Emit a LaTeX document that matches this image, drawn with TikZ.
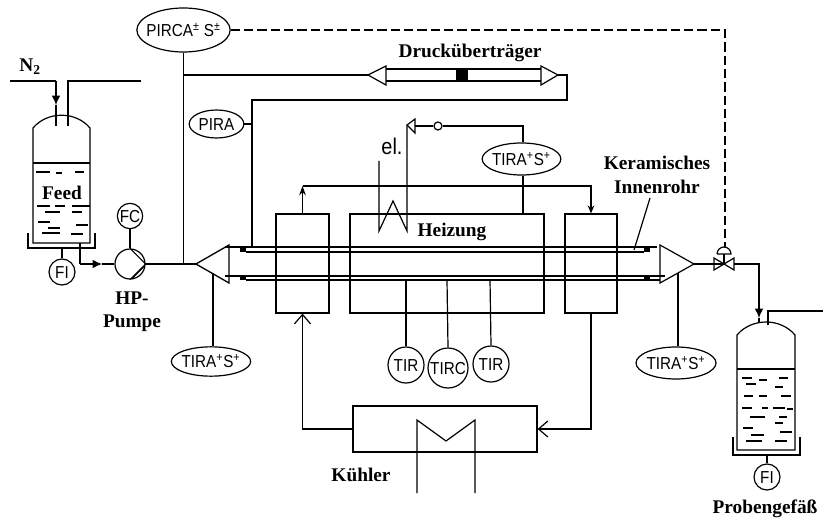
\documentclass[tikz,border=0pt]{standalone}
\usepackage{fontspec}
\setmainfont{Liberation Serif}
\newfontfamily\instfont[FakeStretch=0.88]{Liberation Sans}
\usetikzlibrary{arrows.meta,shapes.geometric}
\tikzset{
    tag/.style={font=\fontsize{14.5}{16}\selectfont\bfseries, inner sep=0pt},
    inst/.style={draw, ellipse, inner sep=0pt, fill=white, font=\fontsize{13}{14}\selectfont\instfont},
    ringinst/.style={draw, circle, inner sep=0pt, fill=white, font=\fontsize{13}{14}\selectfont\instfont},
    box/.style={draw, inner sep=0pt},
    head/.style={-{Latex[length=7pt,width=6.5pt]}},
    open/.style={-{Straight Barb[length=7pt,width=12pt]}}
}
\newcommand{\insttext}[1]{\makebox[0pt]{\raisebox{-0.36em}[0pt][0pt]{#1}}}
\newcommand{\pluslabel}{\insttext{TIRA\textsuperscript{+}S\textsuperscript{+}}}
\begin{document}
\begin{tikzpicture}[x=0.75pt,y=-0.75pt,line width=0.9pt]
    \useasboundingbox (0,0) rectangle (823,520);

    % feed vessel
    \draw (33,243) -- (33,128) to[out=50, in=130] (90,128) -- (90,243) -- cycle;
    \draw (33,163) -- (90,163);
    \draw (28,233) -- (28,248) -- (95,248) -- (95,233);
    \foreach \xa/\xb/\yy in {36/50/172,56/62/173,75/84/172,37/50/206,55/65/206,72/90/206,45/60/212,72/82/212,38/50/222,76/88/225,48/60/228,42/60/233,71/83/234}
        \draw[line width=1pt] (\xa,\yy) -- (\xb,\yy);
    \node[tag] (feed) at (62,193) {Feed};
    \node[tag] (n2) at (30,67) {N\textsubscript{2}};
    \node[ringinst, minimum size=19.5pt] (fi1) at (62,272) {\insttext{FI}};
    \coordinate (fi1top) at (62,248);
    \draw (fi1top) -- (fi1);

    % feed lines and pump
    \coordinate (n2start) at (10,81);
    \coordinate (n2bend) at (56,81);
    \coordinate (n2mid) at (56,105);
    \coordinate (n2end) at (56,126);
    \draw (n2start) -- (n2bend);
    \draw[head] (n2bend) -- (n2mid);
    \draw (n2mid) -- (n2end);
    \coordinate (ventin) at (68,126);
    \coordinate (ventbend) at (68,81);
    \coordinate (ventout) at (141,81);
    \draw (ventin) -- (ventbend) -- (ventout);
    \node[draw, circle, minimum size=22.5pt, inner sep=0pt] (pump) at (130,264) {};
    \node[ringinst, minimum size=19pt] (fc) at (130,216) {\insttext{FC}};
    \draw (fc) -- (pump);
    \draw (pump.north) -- (pump.east) -- (pump.south);
    \draw (pump.east) ++(-2,3) -- ++(-12,12);
    \coordinate (feedout) at (80,243);
    \coordinate (feedbend) at (80,264);
    \coordinate (feedmid) at (102,264);
    \draw (feedout) -- (feedbend);
    \draw[head] (feedbend) -- (feedmid);
    \draw (feedmid) -- (pump);
    \node[tag] (hp) at (132,298) {HP-};
    \node[tag] (pumpe) at (132,323) {Pumpe};

    % reactor
    \coordinate (conel) at (196,264);
    \coordinate (coner) at (694,264);
    \draw[line width=1pt] (conel) -- (229,245) -- (229,283) -- cycle;
    \draw (coner) -- (660,245) -- (660,283) -- cycle;
    \draw (pump.east) -- (conel);
    \draw (225,247) -- (657,247);
    \draw (225,276) -- (665,276);
    \draw (246,252) -- (644,252);
    \draw (246,280) -- (660,280);
    \fill (240,247) rectangle (246,252);
    \fill (240,276) rectangle (246,280);
    \fill (644,247) rectangle (650,252);
    \fill (644,276) rectangle (650,280);
    \node[box, minimum width=39.75pt, minimum height=74.25pt] (kuehll) at (302.5,263.5) {};
    \node[box, minimum width=145.5pt, minimum height=74.25pt] (heizbox) at (447,263.5) {};
    \node[box, minimum width=39pt, minimum height=74.25pt] (kuehlr) at (591,263.5) {};
    \node[tag] (heizung) at (452,232) {Heizung};
    \coordinate (loopl) at (kuehll.north |- 0,186);
    \coordinate (loopr) at (kuehlr.north |- 0,186);
    \draw[-{Stealth[length=7pt,width=5pt]}] (kuehll.north) -- (loopl);
    \draw[-{Stealth[length=6pt,width=5pt]}] (loopl) -- (loopr) -- (kuehlr.north);

    % coil
    \coordinate (coila) at (379,161);
    \coordinate (coilb) at (379,231);
    \coordinate (coilc) at (393,201);
    \coordinate (coild) at (407,231);
    \coordinate (coile) at (407,125);
    \draw (coila) -- (coilb) -- (coilc) -- (coild) -- (coile);
    \node[font=\fontsize{17}{18}\selectfont\instfont, inner sep=0pt] (el) at (392,146) {el.};
    \coordinate (trig) at (415,126);
    \draw (coile) -- (trig |- 0,119) -- (trig |- 0,133) -- cycle;
    \node[draw, circle, minimum size=6pt, inner sep=0pt] (schalter) at (438,126) {};
    \draw (trig) -- (schalter);
    \node[inst, minimum width=59pt, minimum height=24pt] (tira1) at (521.5,159) {\pluslabel};
    \coordinate (tiratop) at (523,126);
    \draw (schalter) -- (tiratop) -- (tira1.north -| tiratop);
    \coordinate (tirabot) at (523,214);
    \draw (tira1.south -| tirabot) -- (tirabot);

    % sensors
    \node[ringinst, minimum size=27pt] (tir1) at (406,365) {\insttext{TIR}};
    \node[ringinst, minimum size=30pt] (tirc) at (448,368) {\insttext{TIRC}};
    \node[ringinst, minimum size=27pt] (tir2) at (491,364) {\insttext{TIR}};
    \coordinate (sa) at (406,280);
    \coordinate (sb) at (447,280);
    \coordinate (sc) at (490,280);
    \draw (sa) -- (tir1.north);
    \draw (sb) -- (tirc.north);
    \draw (sc) -- (tir2.north);
    \node[inst, minimum width=59.5pt, minimum height=22pt] (tira2) at (211,361.5) {\pluslabel};
    \node[inst, minimum width=60pt, minimum height=24pt] (tira3) at (676,363) {\pluslabel};
    \coordinate (ca) at (213,273);
    \coordinate (cb) at (678,273);
    \draw (ca) -- (tira2.north -| ca);
    \draw (cb) -- (tira3.north -| cb);

    % cooler
    \node[box, minimum width=138pt, minimum height=34.5pt] (kuehler) at (445,429) {};
    \coordinate (wa) at (417,493);
    \coordinate (wb) at (417,420);
    \coordinate (wc) at (446,441);
    \coordinate (wd) at (475,420);
    \coordinate (we) at (475,493);
    \draw (wa) -- (wb) -- (wc) -- (wd) -- (we);
    \node[tag] (kuehlerlabel) at (361,475) {Kühler};
    \draw[open] (kuehler.west) -| (kuehll.south);
    \draw[open] (kuehlr.south) |- (kuehler.east);

    % pressure lines
    \node[inst, minimum width=70pt, minimum height=33pt] (pirca) at (183.5,30) {\insttext{PIRCA\textsuperscript{±} S\textsuperscript{±}}};
    \node[inst, minimum width=41pt, minimum height=21pt] (pira) at (216.5,124) {\insttext{PIRA}};
    \coordinate (pircabot) at (183.5,264);
    \draw (pirca) -- (pircabot);
    \coordinate (druckin) at (183.5,75);
    \coordinate (drucka) at (368,75);
    \coordinate (druckb) at (558,75);
    \draw (druckin) -- (drucka);
    \draw (drucka) -- (386,66) -- (386,85) -- cycle;
    \draw (druckb) -- (541,66) -- (541,85) -- cycle;
    \draw (386,69) -- (541,69);
    \draw (386,81) -- (541,81);
    \fill (456,70) rectangle (468,81);
    \node[tag] (druck) at (470,53) {Drucküberträger};
    \coordinate (backa) at (567,75);
    \coordinate (backb) at (567,100);
    \coordinate (backc) at (252,100);
    \coordinate (backd) at (252,247);
    \draw (druckb) -- (backa) -- (backb) -- (backc) -- (backd);
    \draw (pira) -- (pira -| backd);

    % valve and sample vessel
    \coordinate (valve) at (724,264);
    \draw (valve) -- (714,258) -- (714,270) -- cycle;
    \draw (valve) -- (734,258) -- (734,270) -- cycle;
    \draw (valve) -- (724,254);
    \draw (717,254) -- (731,254) arc (0:-180:7);
    \coordinate (dashbot) at (725,247);
    \coordinate (dashtop) at (725,30);
    \draw[dash pattern=on 7pt off 3pt] (pirca) -- (dashtop) -- (dashbot);
    \draw (coner) -- (valve);
    \coordinate (probea) at (734,264);
    \coordinate (probeb) at (759,264);
    \coordinate (probec) at (759,318);
    \coordinate (probed) at (759,323);
    \draw[head] (probea) -- (probeb) -- (probec);
    \draw (probec) -- (probed);
    \coordinate (ventp) at (768,325);
    \coordinate (ventq) at (768,311);
    \coordinate (ventr) at (823,311);
    \draw (ventp) -- (ventq) -- (ventr);
    \draw (737,450) -- (737,335) to[out=50, in=130] (795,335) -- (795,450) -- cycle;
    \draw (737,369) -- (795,369);
    \draw (733,437) -- (733,455) -- (800,455) -- (800,437);
    \foreach \xa/\xb/\yy in {742/752/378,759/767/380,779/788/378,746/756/384,775/783/387,744/753/396,759/767/396,781/791/396,742/752/408,762/768/408,773/785/408,787/793/409,750/765/417,779/787/417,775/783/423,743/753/428,751/764/435,780/792/432,746/762/441,775/787/441}
        \draw[line width=1pt] (\xa,\yy) -- (\xb,\yy);
    \node[ringinst, minimum size=19.5pt] (fi2) at (767,477) {\insttext{FI}};
    \coordinate (fi2top) at (767,455);
    \draw (fi2top) -- (fi2);
    \node[tag] (probe) at (765,509) {Probengefäß};

    % ceramic tube label
    \node[tag] (keram) at (657,163) {Keramisches};
    \node[tag] (innen) at (657,187) {Innenrohr};
    \coordinate (leadera) at (650,198);
    \coordinate (leaderb) at (634,250);
    \draw (leadera) -- (leaderb);
\end{tikzpicture}
\end{document}
